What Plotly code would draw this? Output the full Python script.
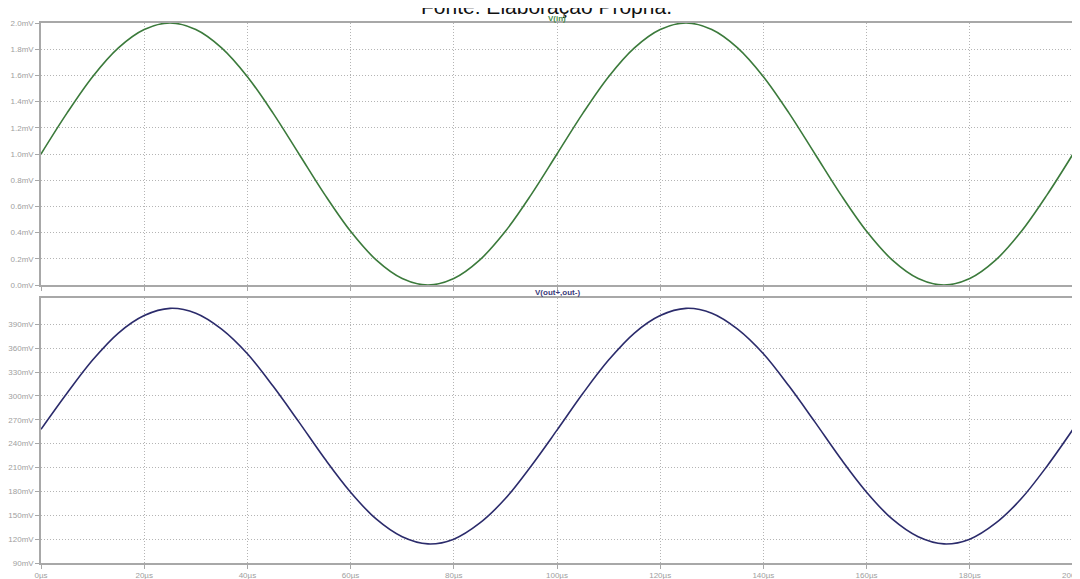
import plotly.graph_objects as go
from plotly.subplots import make_subplots

# time in microseconds
time_us = [0, 5, 10, 15, 20, 25, 30, 35, 40, 45, 50, 55, 60, 65, 70, 75, 80, 85, 90, 95,
           100, 105, 110, 115, 120, 125, 130, 135, 140, 145, 150, 155, 160, 165, 170, 175,
           180, 185, 190, 195, 200]

# V(in) in mV
v_in_mv = [1.00, 1.31, 1.59, 1.81, 1.95, 2.00, 1.95, 1.81, 1.59, 1.31,
           1.00, 0.69, 0.41, 0.19, 0.05, 0.00, 0.05, 0.19, 0.41, 0.69,
           1.00, 1.31, 1.59, 1.81, 1.95, 2.00, 1.95, 1.81, 1.59, 1.31,
           1.00, 0.69, 0.41, 0.19, 0.05, 0.00, 0.05, 0.19, 0.41, 0.69, 1.00]

# V(out+,out-) in mV
v_out_mv = [258, 303, 345, 379, 401, 410, 404, 384, 353, 312,
            267, 221, 179, 145, 123, 114, 120, 140, 171, 212,
            257, 303, 345, 379, 401, 410, 404, 384, 353, 312,
            267, 221, 179, 145, 123, 114, 120, 140, 171, 212, 258]

x_tick_vals = [0, 20, 40, 60, 80, 100, 120, 140, 160, 180, 200]
x_tick_text = ["0µs", "20µs", "40µs", "60µs", "80µs", "100µs", "120µs", "140µs", "160µs", "180µs", "200µs"]

top_tick_vals = [0.0, 0.2, 0.4, 0.6, 0.8, 1.0, 1.2, 1.4, 1.6, 1.8, 2.0]
top_tick_text = ["0.0mV", "0.2mV", "0.4mV", "0.6mV", "0.8mV", "1.0mV", "1.2mV", "1.4mV", "1.6mV", "1.8mV", "2.0mV"]

bot_tick_vals = [90, 120, 150, 180, 210, 240, 270, 300, 330, 360, 390]
bot_tick_text = ["90mV", "120mV", "150mV", "180mV", "210mV", "240mV", "270mV", "300mV", "330mV", "360mV", "390mV"]

GREEN = "#3b7a3b"
NAVY = "#2b2b6b"
AXIS = "#a8a8a8"
GRID = "#b4b4b4"
TICKFONT = dict(family="Liberation Sans, Arial, sans-serif", size=8, color="#a0a0a0")

fig = make_subplots(rows=2, cols=1, shared_xaxes=False, vertical_spacing=0.0)

fig.add_trace(go.Scatter(x=time_us, y=v_in_mv, mode="lines",
                         line=dict(color=GREEN, width=1.6, shape="spline", smoothing=1.0),
                         showlegend=False, hoverinfo="skip"), row=1, col=1)
fig.add_trace(go.Scatter(x=time_us, y=v_out_mv, mode="lines",
                         line=dict(color=NAVY, width=1.6, shape="spline", smoothing=1.0),
                         showlegend=False, hoverinfo="skip"), row=2, col=1)

common_axis = dict(showline=True, linecolor=AXIS, linewidth=1.5, mirror=True,
                   showgrid=True, gridcolor=GRID, griddash="1px,2px", gridwidth=1,
                   zeroline=False, ticks="outside", ticklen=4, tickcolor=AXIS,
                   tickfont=TICKFONT, automargin=False)

fig.update_xaxes(range=[0, 200], tickvals=x_tick_vals, ticktext=x_tick_text, **common_axis)
fig.update_xaxes(showticklabels=False, row=1, col=1)
fig.update_yaxes(**common_axis)
fig.update_yaxes(range=[0, 2.0], tickvals=top_tick_vals, ticktext=top_tick_text, row=1, col=1)
fig.update_yaxes(range=[90, 423], tickvals=bot_tick_vals, ticktext=bot_tick_text, row=2, col=1)

# the page body has an 8px margin, so the margins compensate for that offset
fig.update_layout(
    width=1080, height=579,
    margin=dict(l=33, r=15, t=15, b=24),
    paper_bgcolor="white", plot_bgcolor="white",
    yaxis=dict(domain=[0.5148, 1.0]),
    yaxis2=dict(domain=[0.0, 0.4907]),
    annotations=[
        dict(text="Fonte: Elaboração Própria.", x=0.4895, y=1.031, xref="paper", yref="paper",
             xanchor="center", yanchor="middle", showarrow=False,
             font=dict(family="Liberation Sans, Arial, sans-serif", size=21, color="#111111")),
        dict(text="<b>V(in)</b>", x=0.5, y=0.996, xref="paper", yref="paper",
             xanchor="center", yanchor="bottom", showarrow=False,
             font=dict(family="Liberation Sans, Arial, sans-serif", size=8, color="#4a8a4a")),
        dict(text="<b>V(out+,out-)</b>", x=0.5, y=0.4887, xref="paper", yref="paper",
             xanchor="center", yanchor="bottom", showarrow=False,
             font=dict(family="Liberation Sans, Arial, sans-serif", size=8, color="#3a3a7a")),
    ],
)

fig.write_html("out.html")
